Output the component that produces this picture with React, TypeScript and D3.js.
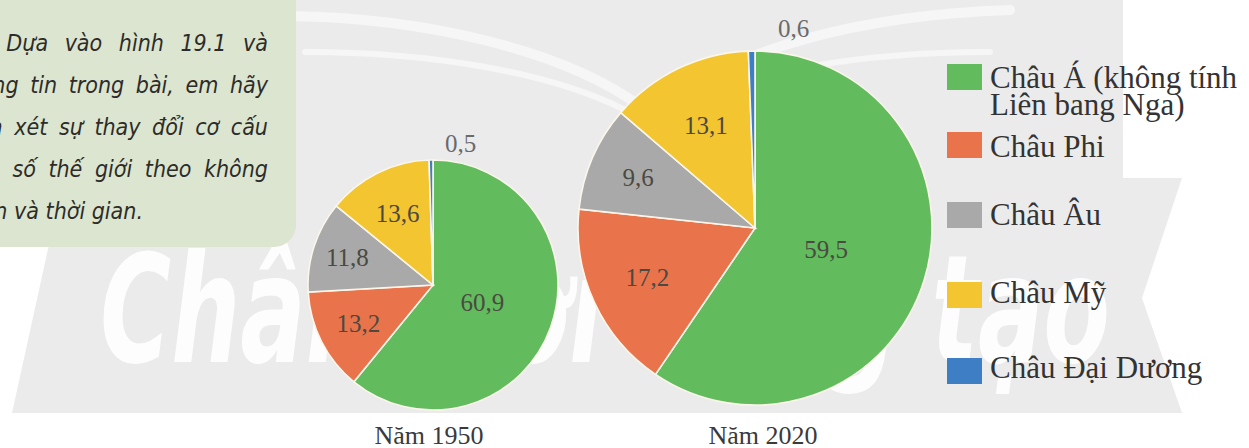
import React from 'react';
import * as d3 from 'd3';

// ---------- data ----------
const categories = ['Châu Á (không tính Liên bang Nga)', 'Châu Phi', 'Châu Âu', 'Châu Mỹ', 'Châu Đại Dương'];
const legendLines = [['Châu Á (không tính', 'Liên bang Nga)'], ['Châu Phi'], ['Châu Âu'], ['Châu Mỹ'], ['Châu Đại Dương']];
const years = ['Năm 1950', 'Năm 2020'];
const values1950 = [60.9, 13.2, 11.8, 13.6, 0.5];
const values2020 = [59.5, 17.2, 9.6, 13.1, 0.6];
const questionLines = [
  'Dựa vào hình 19.1 và',
  'thông tin trong bài, em hãy',
  'nhận xét sự thay đổi cơ cấu',
  'dân số thế giới theo không',
  'gian và thời gian.',
];
const watermark = 'Chân trời sáng tạo';

// ---------- style ----------
const colors = ['#62bb5d', '#e9734b', '#a9a9a9', '#f3c530', '#3d7ec4'];
const labelRadiusFrac = [0.42, 0.67, 0.72, 0.64, 1.15];
const labelAngleOffsetDeg = [0, 0, 0, 0, 12];
const pies = [
  { values: values1950, cx: 433, cy: 285, r: 125, titleX: 429 },
  { values: values2020, cx: 755, cy: 228, r: 177, titleX: 763 },
];
const legendBoxTop = [64, 132, 202, 282, 358];
const legendTextBase = [88, 157, 225, 303, 378];
const questionWordSpacing = [10, 5, 5, 6, 0];

const fmt = d3.formatLocale({ decimal: ',', thousands: '.', grouping: [3], currency: ['', ''] }).format('.1f');
const serif = '"Liberation Serif", "Times New Roman", serif';
const narrow = '"Liberation Sans Narrow", "DejaVu Sans Condensed", "Open Sans", sans-serif';

function Pie({ values, cx, cy, r }: { values: number[]; cx: number; cy: number; r: number }) {
  const arcs = d3.pie<number>().sort(null).value((d) => d)(values);
  const arc = d3.arc<d3.PieArcDatum<number>>().innerRadius(0).outerRadius(r);
  return (
    <g transform={`translate(${cx},${cy})`}>
      {arcs.map((a, i) => (
        <path key={i} d={arc(a) || ''} fill={colors[i]} stroke="#fbf6ea" strokeWidth={1.6} />
      ))}
      {arcs.map((a, i) => {
        const mid = (a.startAngle + a.endAngle) / 2 + (labelAngleOffsetDeg[i] * Math.PI) / 180;
        const rr = r * labelRadiusFrac[i];
        return (
          <text
            key={'l' + i}
            x={rr * Math.sin(mid)}
            y={-rr * Math.cos(mid)}
            textAnchor="middle"
            dominantBaseline="central"
            fontFamily={serif}
            fontSize={25}
            fill={i === 4 ? '#6a6a6a' : '#4a4a42'}
          >
            {fmt(values[i])}
          </text>
        );
      })}
    </g>
  );
}

export default function App() {
  return (
    <div style={{ position: 'absolute', left: 0, top: 0 }}>
      <svg width={1249} height={448} style={{ display: 'block' }}>
        <rect x={0} y={0} width={1249} height={448} fill="#ffffff" />
        {/* background watermark panel */}
        <polygon
          points="0,0 1123,0 1123,178 1182,178 1142,298 1182,413 12,413 50,240 0,240"
          fill="#ebebeb"
        />
        {/* page swooshes */}
        <g fill="none" stroke="#f6f6f6" strokeLinecap="round">
          <path d="M290,16 C420,18 560,48 640,106" strokeWidth={10} />
          <path d="M305,52 C430,52 550,72 625,110" strokeWidth={6} />
          <path d="M1010,10 C860,15 730,50 665,106" strokeWidth={10} />
          <path d="M990,52 C860,52 740,72 680,110" strokeWidth={6} />
        </g>
        <text
          x={100}
          y={362}
          textLength={1010}
          lengthAdjust="spacingAndGlyphs"
          fontFamily={narrow}
          fontWeight="bold"
          fontStyle="italic"
          fontSize={150}
          fill="#ffffff"
          opacity={0.9}
        >
          {watermark}
        </text>

        {/* question box */}
        <rect x={-30} y={-30} width={326} height={277} rx={22} fill="#dce5cf" />
        <g fontFamily={narrow} fontStyle="italic" fontSize={23} fill="#2c2c2a">
          {questionLines.map((t, i) => (
            <text
              key={i}
              x={i < 4 ? 268 : 143}
              y={51 + i * 42}
              textAnchor="end"
              wordSpacing={questionWordSpacing[i]}
            >
              {t}
            </text>
          ))}
        </g>

        {pies.map((p, k) => (
          <Pie key={k} values={p.values} cx={p.cx} cy={p.cy} r={p.r} />
        ))}

        {pies.map((p, k) => (
          <text key={'t' + k} x={p.titleX} y={444} textAnchor="middle" fontFamily={serif} fontSize={26} fill="#3a3a3a">
            {years[k]}
          </text>
        ))}

        {/* legend */}
        {categories.map((c, i) => (
          <g key={c}>
            <rect x={947} y={legendBoxTop[i]} width={35} height={26} fill={colors[i]} />
            {legendLines[i].map((line, j) => (
              <text
                key={j}
                x={990}
                y={legendTextBase[i] + j * 27}
                fontFamily={serif}
                fontSize={31}
                fill="#333333"
              >
                {line}
              </text>
            ))}
          </g>
        ))}
      </svg>
    </div>
  );
}
